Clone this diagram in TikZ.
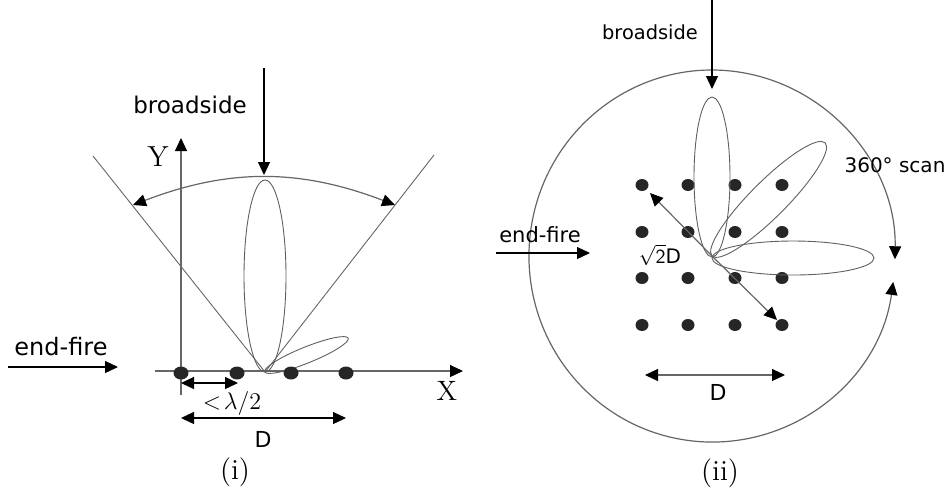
\documentclass[tikz,border=0pt]{standalone}
\usepackage{fontspec}
\newfontfamily\labelfont{DejaVu Sans}
\usetikzlibrary{arrows.meta}

\begin{document}
\begin{tikzpicture}[x=0.5pt,y=-0.5pt,
    lobe/.style={gray!75!black, line width=0.45pt},
    guide/.style={gray!80!black, line width=0.45pt},
    arr/.style={-{Triangle[length=6.5pt,width=6pt,color=black]}, line width=0.6pt},
    both/.style={{Triangle[length=6.5pt,width=6pt,color=black]}-{Triangle[length=6.5pt,width=6pt,color=black]}, line width=0.6pt},
    dot/.style={fill=black!85},
    sans/.style={font=\labelfont\fontsize{#1}{#1}\selectfont},
    serif/.style={font=\fontsize{#1}{#1}\selectfont}]
    \useasboundingbox (0,0) rectangle (947,495);

    % ---------- (i) linear array ----------
    % Draw axes
    \coordinate (xa) at (155,371);
    \coordinate (xb) at (463,371);
    \coordinate (ya) at (181,395);
    \coordinate (yb) at (181,138);
    \draw[guide, arr] (xa) -- (xb);
    \draw[guide, arr] (ya) -- (yb);
    \node[serif=14] (xlbl) at (447,391) {X};
    \node[serif=14.5] (ylbl) at (158,157) {Y};
    % Draw scan limits
    \coordinate (vtx) at (265,372);
    \coordinate (ll) at (93,156);
    \coordinate (lr) at (434,155);
    \draw[guide] (ll) -- (vtx) -- (lr);
    \coordinate (al) at (133,205);
    \coordinate (ar) at (395,205);
    \draw[guide, both] (al) to[bend left=21] (ar);
    % Draw lobes
    \draw[lobe] (265,276) ellipse [x radius=21, y radius=96];
    \draw[lobe, rotate around={22:(306.5,355)}] (306.5,355) ellipse [x radius=45, y radius=8];
    % Draw elements
    \foreach \x in {181,237,291,346}
        \fill[dot] (\x,373) ellipse [x radius=7.5, y radius=6.5];
    % Draw spacing and aperture
    \coordinate (sa) at (181,383);
    \coordinate (sb) at (238,383);
    \draw[both] (sa) -- (sb);
    \node[serif=12] (slbl) at (232,403) {$<\!\lambda/2$};
    \coordinate (da) at (181,418);
    \coordinate (db) at (346,418);
    \draw[both] (da) -- (db);
    \node[sans=11] (dlbl) at (263,439) {D};
    % Draw directions
    \coordinate (ea) at (8,367);
    \coordinate (eb) at (118,367);
    \draw[arr] (ea) -- (eb);
    \node[sans=12] (elbl) at (61,347) {end-fire};
    \coordinate (ba) at (264,68);
    \coordinate (bb) at (264,175);
    \draw[arr] (ba) -- (bb);
    \node[sans=11.5] (blbl) at (190,105) {broadside};
    \node[serif=14.5] (cap1) at (235,472) {(i)};

    % ---------- (ii) planar array ----------
    % Draw scan circle
    \coordinate (cs) at (893.2,281.9);
    \draw[guide, both] (cs) arc [start angle=8, end angle=361, x radius=183, y radius=186];
    \node[sans=10] (slbl2) at (895,165) {360\textdegree\ scan};
    % Draw elements
    \foreach \x in {642,688,735,782}
        \foreach \y in {185,232,278,325}
            \fill[dot] (\x,\y) ellipse [x radius=6.5, y radius=6];
    % Draw lobes
    \coordinate (rv) at (712,256);
    \draw[lobe] (712,177) ellipse [x radius=18, y radius=80];
    \draw[lobe, rotate around={45:(768.6,199.4)}] (768.6,199.4) ellipse [x radius=80, y radius=18];
    \draw[lobe] (793,258) ellipse [x radius=81, y radius=17];
    % Draw diagonal
    \coordinate (dga) at (650,193);
    \coordinate (dgb) at (777,320);
    \draw[guide, arr] (rv) -- (dga);
    \draw[guide, arr] (rv) -- (dgb);
    \node[sans=10] (rlbl) at (660,255) {$\sqrt{\mathsf{2}}$D};
    % Draw aperture
    \coordinate (rda) at (645,375);
    \coordinate (rdb) at (785,375);
    \draw[guide, both] (rda) -- (rdb);
    \node[sans=11] (rdlbl) at (718,392) {D};
    % Draw directions
    \coordinate (rea) at (496,253);
    \coordinate (reb) at (590,253);
    \draw[arr] (rea) -- (reb);
    \node[sans=10.5] (relbl) at (540,235) {end-fire};
    \coordinate (rba) at (712,0);
    \coordinate (rbb) at (712,89);
    \draw[arr] (rba) -- (rbb);
    \node[sans=9.7] (rblbl) at (650,32) {broadside};
    \node[serif=14.5] (cap2) at (720,473) {(ii)};
\end{tikzpicture}
\end{document}
